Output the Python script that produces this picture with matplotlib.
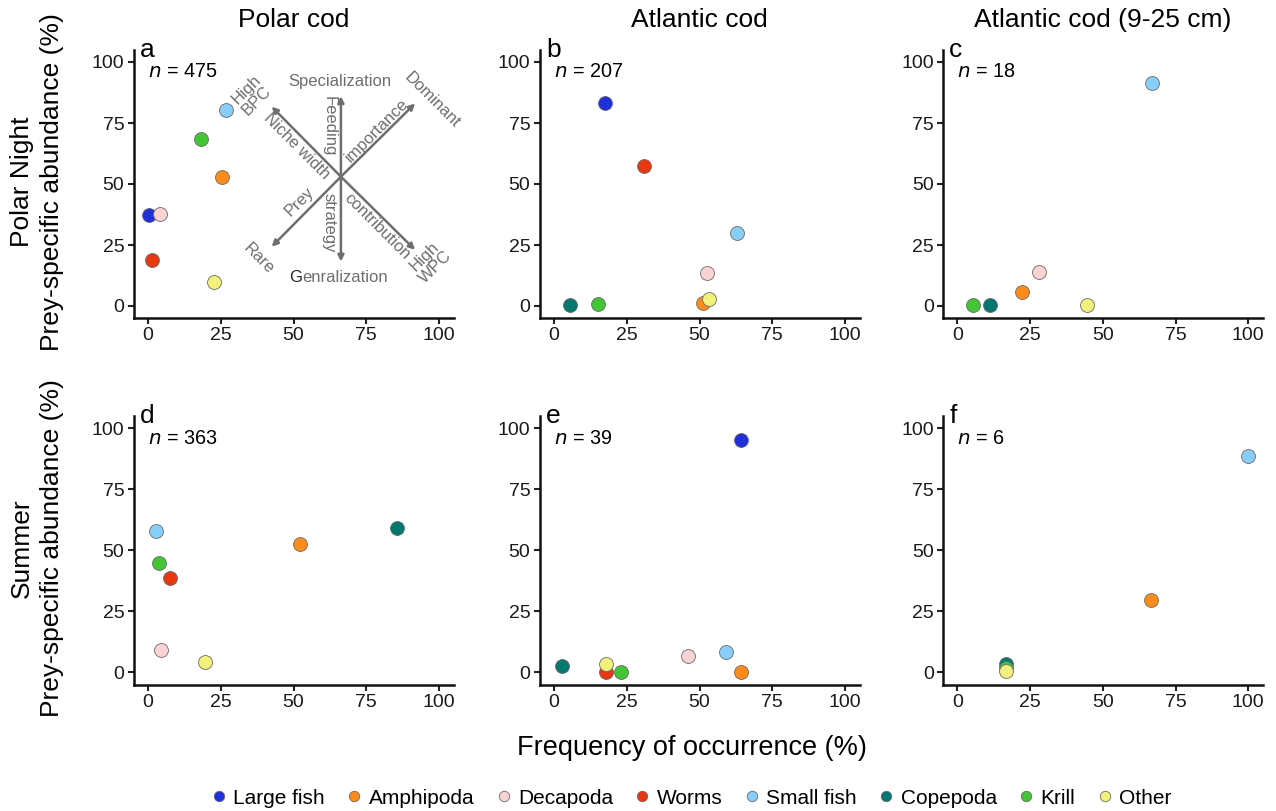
import matplotlib
matplotlib.use("Agg")
import matplotlib.pyplot as plt
from matplotlib.lines import Line2D
import numpy as np

plt.rcParams['font.family'] = ['Liberation Sans', 'DejaVu Sans']

# ---------------- data ----------------
categories = ["Large fish", "Amphipoda", "Decapoda", "Worms", "Small fish",
              "Copepoda", "Krill", "Other"]
colors = ["#1f30d8", "#ff8c1a", "#fbd3d3", "#e8380f", "#87cefa",
          "#00786f", "#44c535", "#f2f27a"]

nan = np.nan
# frequency of occurrence (%) / prey-specific abundance (%) per panel, category order
fo_a = [0.3, 25.5, 4.1, 1.3, 26.8, nan, 18.1, 22.7]
psa_a = [37.5, 52.8, 37.8, 18.8, 80.3, nan, 68.4, 10.0]
fo_b = [17.6, 51.1, 52.6, 31.0, 62.8, 5.5, 15.1, 53.2]
psa_b = [83.3, 1.4, 13.7, 57.4, 30.0, 0.4, 0.7, 2.7]
fo_c = [nan, 22.3, 27.9, nan, 66.8, 11.3, 5.5, 44.6]
psa_c = [nan, 5.6, 13.8, nan, 91.5, 0.4, 0.4, 0.4]
fo_d = [nan, 52.2, 4.4, 7.4, 2.6, 85.7, 3.8, 19.5]
psa_d = [nan, 52.4, 9.1, 38.8, 57.8, 59.0, 44.9, 4.1]
fo_e = [64.1, 64.1, 46.1, 17.9, 59.0, 2.6, 23.1, 17.9]
psa_e = [95.2, 0.0, 6.8, 0.3, 8.5, 2.7, 0.0, 3.4]
fo_f = [nan, 66.7, nan, nan, 100.0, 16.7, 16.7, 16.7]
psa_f = [nan, 29.5, nan, nan, 88.8, 3.2, 1.8, 0.4]

panel_letters = ["a", "b", "c", "d", "e", "f"]
sample_sizes = [475, 207, 18, 363, 39, 6]
col_titles = ["Polar cod", "Atlantic cod", "Atlantic cod (9-25 cm)"]
row_titles = ["Polar Night", "Summer"]
ticks = [0, 25, 50, 75, 100]

panels_x = [fo_a, fo_b, fo_c, fo_d, fo_e, fo_f]
panels_y = [psa_a, psa_b, psa_c, psa_d, psa_e, psa_f]

# ---------------- figure ----------------
W, H = 1276, 811
fig = plt.figure(figsize=(W / 100, H / 100), dpi=100)

lefts = [133.5, 539.5, 942.8]
tops = [49.8, 416.1]
aw, ah = 320.0, 268.4

axes = []
for r in range(2):
    for c in range(3):
        ax = fig.add_axes([lefts[c] / W, 1 - (tops[r] + ah) / H, aw / W, ah / H])
        axes.append(ax)

for i, ax in enumerate(axes):
    xs = panels_x[i]
    ys = panels_y[i]
    for k in range(len(categories)):
        if np.isnan(xs[k]):
            continue
        ax.scatter([xs[k]], [ys[k]], s=100, color=colors[k], edgecolor="#6a6a6a",
                   linewidth=0.6, zorder=3 + k, clip_on=False)
    ax.set_xlim(-5, 105)
    ax.set_ylim(-5, 105)
    ax.set_xticks(ticks)
    ax.set_yticks(ticks)
    ax.tick_params(labelsize=14, length=4, width=1.5, color="#222222",
                   labelcolor="#1a1a1a", pad=2.5)
    for s in ["top", "right"]:
        ax.spines[s].set_visible(False)
    for s in ["left", "bottom"]:
        ax.spines[s].set_linewidth(1.8)
        ax.spines[s].set_color("#111111")
    ax.text(6.5 / aw, 1 - 7 / ah, panel_letters[i], transform=ax.transAxes,
            fontsize=19, va="baseline", ha="left", color="black")
    ax.text(14.5 / aw, 1 - 22 / ah, r"$\it{n}$ = %d" % sample_sizes[i],
            transform=ax.transAxes, fontsize=14.3, va="center", ha="left",
            color="black")

# column titles
for c in range(3):
    fig.text((lefts[c] + aw / 2) / W, 1 - 20 / H, col_titles[c],
             fontsize=19, ha="center", va="center")

# row labels
for r in range(2):
    yc = 1 - (tops[r] + ah / 2 - 2) / H
    fig.text(22 / W, yc, row_titles[r], fontsize=19, rotation=90,
             ha="center", va="center")
    fig.text(52 / W, yc, "Prey-specific abundance (%)", fontsize=19,
             rotation=90, ha="center", va="center")

fig.text(692 / W, 1 - 748 / H, "Frequency of occurrence (%)", fontsize=19.5,
         ha="center", va="center")

# ---------------- conceptual diagram (panel a) ----------------
ax = axes[0]
gc = "#6e6e6e"
cx, cy = 66.3, 53.0
arrow_ends = [(66.3, 86.0), (66.3, 18.2), (42.5, 81.7), (91.8, 83.0),
              (42.5, 24.3), (91.8, 23.0)]
for ex, ey in arrow_ends:
    ax.annotate("", xy=(ex, ey), xytext=(cx, cy),
                arrowprops=dict(arrowstyle="-|>", color=gc, lw=1.8,
                                mutation_scale=9, shrinkA=0, shrinkB=0),
                zorder=2)
fs = 12
ax.text(66.0, 92.0, "Specialization", color=gc, fontsize=fs, ha="center", va="center")
ax.text(53.0, 11.5, "G", color="#1f2a28", fontsize=fs, ha="right", va="center")
ax.text(53.0, 11.5, "enralization", color=gc, fontsize=fs, ha="left", va="center")
ax.text(97.5, 84.4, "Dominant", color=gc, fontsize=fs, ha="center", va="center",
        rotation=-45, rotation_mode="anchor")
ax.text(35.6, 86.5, "High\nBPC", color=gc, fontsize=fs, ha="center", va="center",
        rotation=45, linespacing=1.0, rotation_mode="anchor")
ax.text(37.9, 19.5, "Rare", color=gc, fontsize=fs, ha="center", va="center",
        rotation=-45, rotation_mode="anchor")
ax.text(97.0, 18.2, "High\nWPC", color=gc, fontsize=fs, ha="center", va="center",
        rotation=45, linespacing=1.0, rotation_mode="anchor")
ax.text(62.4, 73.5, "Feeding", color=gc, fontsize=fs, ha="center", va="center",
        rotation=-90, rotation_mode="anchor")
ax.text(62.4, 34.0, "strategy", color=gc, fontsize=fs, ha="center", va="center",
        rotation=-90, rotation_mode="anchor")
ax.text(78.6, 72.0, "importance", color=gc, fontsize=fs, ha="center", va="center",
        rotation=45, rotation_mode="anchor")
ax.text(51.1, 65.3, "Niche width", color=gc, fontsize=fs, ha="center", va="center",
        rotation=-45, rotation_mode="anchor")
ax.text(52.2, 42.7, "Prey", color=gc, fontsize=fs, ha="center", va="center",
        rotation=45, rotation_mode="anchor")
ax.text(78.6, 32.5, "contribution", color=gc, fontsize=fs, ha="center", va="center",
        rotation=-45, rotation_mode="anchor")

# ---------------- legend ----------------
handles = [Line2D([0], [0], marker="o", linestyle="none", markersize=7.5,
                  markerfacecolor=colors[k], markeredgecolor="#6a6a6a",
                  markeredgewidth=0.6, label=categories[k])
           for k in range(len(categories))]
fig.legend(handles=handles, loc="center", bbox_to_anchor=(690 / W, 1 - 798 / H),
           ncol=8, frameon=False, fontsize=15, handletextpad=0.2,
           columnspacing=0.9, handlelength=1.0)

fig.savefig("out.png", dpi=100)
